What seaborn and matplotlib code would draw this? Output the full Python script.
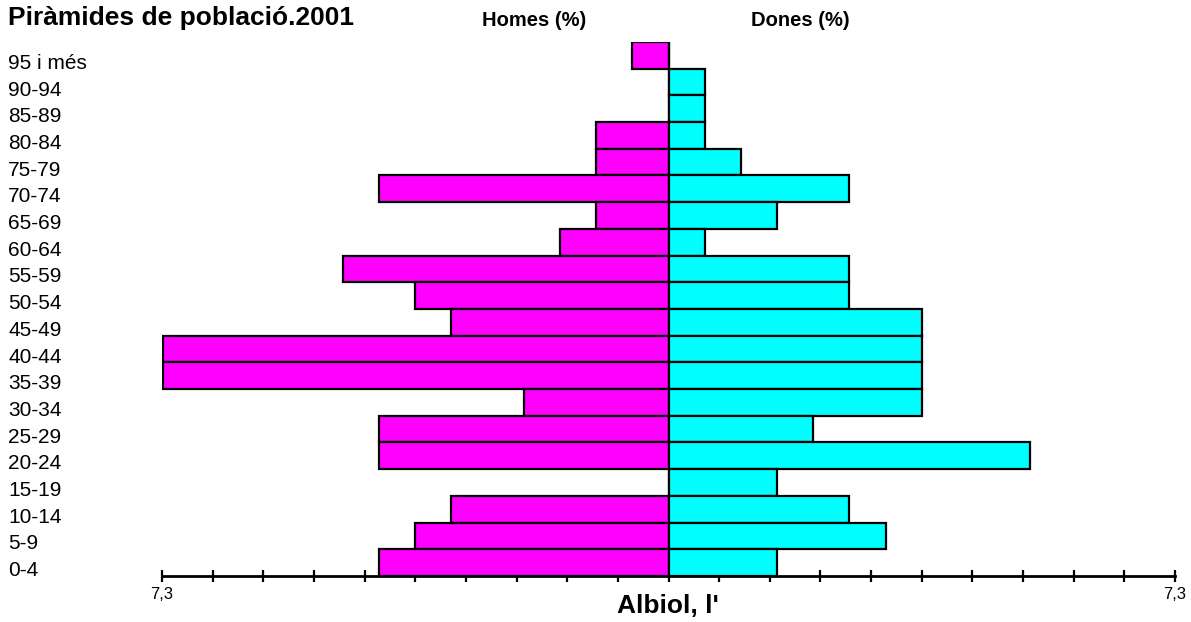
import numpy as np
import pandas as pd
import matplotlib
matplotlib.use("Agg")
import matplotlib.pyplot as plt
import matplotlib.transforms as mtransforms
import seaborn as sns

# Age groups, top to bottom
ages = ["95 i més", "90-94", "85-89", "80-84", "75-79", "70-74", "65-69", "60-64",
        "55-59", "50-54", "45-49", "40-44", "35-39", "30-34", "25-29", "20-24",
        "15-19", "10-14", "5-9", "0-4"]

# Percent of total population
homes = [0.52, 0, 0, 1.04, 1.04, 4.17, 1.04, 1.56, 4.69, 3.65,
         3.13, 7.29, 7.29, 2.08, 4.17, 4.17, 0, 3.13, 3.65, 4.17]
dones = [0, 0.52, 0.52, 0.52, 1.04, 2.60, 1.56, 0.52, 2.60, 2.60,
         3.65, 3.65, 3.65, 3.65, 2.08, 5.21, 1.56, 2.60, 3.13, 1.56]

max_val = 7.3

df = pd.DataFrame({"age": ages, "homes": homes, "dones": dones})
df["homes_neg"] = -df["homes"]

sns.set_style("white")
plt.rcParams['font.family'] = ['Liberation Sans', 'DejaVu Sans']
plt.rcParams['text.color'] = 'black'
plt.rcParams['xtick.color'] = 'black'
plt.rcParams['ytick.color'] = 'black'
plt.rcParams['xtick.labelcolor'] = 'black'
plt.rcParams['ytick.labelcolor'] = 'black'

fig = plt.figure(figsize=(11.91, 6.22), dpi=100)
ax = fig.add_axes([162 / 1191, 46 / 622, 1013 / 1191, 534 / 622])

sns.barplot(data=df, x="homes_neg", y="age", order=ages, orient="h", width=1,
            color="#FF00FF", saturation=1, edgecolor="black", linewidth=1.6, ax=ax)
sns.barplot(data=df, x="dones", y="age", order=ages, orient="h", width=1,
            color="#00FFFF", saturation=1, edgecolor="black", linewidth=1.6, ax=ax)

ax.set_xlim(-max_val, max_val)
ax.set_ylim(len(ages) - 0.5, -0.5)

# x ticks: 10 per side, labels only at the ends
ticks = np.linspace(-max_val, max_val, 21)
tick_labels = ["7,3"] + [""] * 19 + ["7,3"]
ax.set_xticks(ticks, tick_labels)
ax.tick_params(axis="x", direction="inout", length=8, width=1.6, color="black",
               labelsize=12, pad=4, bottom=True, labelcolor="black")

for side in ["top", "right", "left"]:
    ax.spines[side].set_visible(False)
ax.spines["bottom"].set_linewidth(2)
ax.spines["bottom"].set_color("black")

# y labels left aligned at the figure edge
ax.tick_params(axis="y", length=0, pad=154 * 0.72, labelsize=15, labelcolor="black")
offset = mtransforms.ScaledTranslation(0, -6 / 100, fig.dpi_scale_trans)
for lbl in ax.get_yticklabels():
    lbl.set_horizontalalignment("left")
    lbl.set_transform(lbl.get_transform() + offset)

ax.set_xlabel("")
ax.set_ylabel("")

fig.text(8 / 1191, 1 - 18 / 622, "Piràmides de població.2001", fontsize=19,
         fontweight="bold", ha="left", va="center", color="black")
fig.text(534 / 1191, 1 - 20 / 622, "Homes (%)", fontsize=14.5,
         fontweight="bold", ha="center", va="center", color="black")
fig.text(800 / 1191, 1 - 20 / 622, "Dones (%)", fontsize=14.5,
         fontweight="bold", ha="center", va="center", color="black")
fig.text(668 / 1191, 1 - 606 / 622, "Albiol, l'", fontsize=19,
         fontweight="bold", ha="center", va="center", color="black")

fig.savefig("out.png", dpi=100)
